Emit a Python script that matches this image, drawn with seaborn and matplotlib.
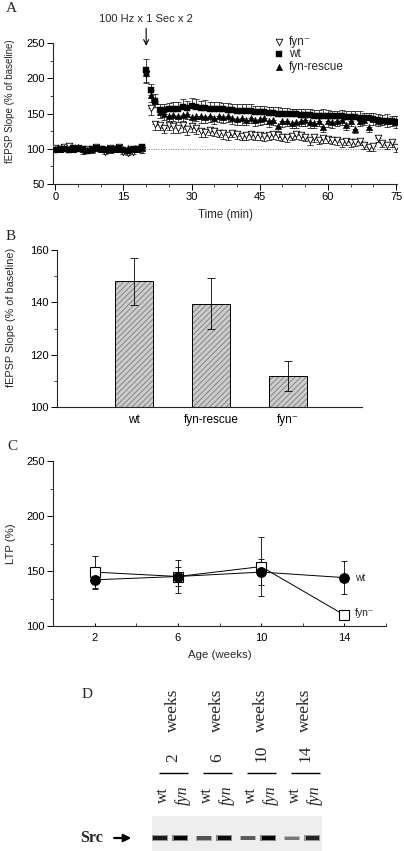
import matplotlib
matplotlib.use("Agg")
import matplotlib.pyplot as plt
import matplotlib.ticker as mticker
import seaborn as sns
import numpy as np

# ---------- panel A : fEPSP slope time course, one point per min ----------
time_min = list(range(0, 76))
wt_slope = [98, 99, 100, 98, 101, 100, 99, 97, 100, 101, 99, 98, 100, 99, 101, 98, 97, 99, 100, 102,
            211, 183, 168, 155, 155, 156, 157, 157, 159, 158, 160, 159, 158, 158, 157, 157, 156, 156, 155, 155,
            154, 154, 153, 154, 152, 152, 152, 151, 151, 150, 150, 150, 149, 149, 148, 148, 148, 147, 147, 147,
            147, 146, 146, 146, 145, 145, 145, 144, 143, 143, 142, 141, 140, 140, 139, 138]
wt_err = [3, 2, 3, 4, 3, 3, 2, 3, 4, 3, 2, 3, 3, 2, 4, 3, 3, 2, 3, 3,
          16, 9, 9, 8, 8, 9, 9, 10, 11, 10, 12, 11, 10, 11, 10, 10, 10, 9, 10, 9,
          9, 9, 10, 9, 9, 8, 9, 8, 8, 9, 8, 8, 8, 8, 9, 8, 8, 8, 8, 9,
          8, 8, 8, 9, 8, 8, 8, 9, 8, 8, 9, 8, 8, 9, 8, 9]
rescue_slope = [100, 99, 101, 100, 99, 102, 100, 98, 99, 101, 100, 99, 98, 100, 99, 100, 101, 99, 100, 101,
                207, 176, 168, 152, 150, 147, 148, 146, 148, 150, 145, 147, 146, 145, 146, 144, 146, 145, 147, 143,
                142, 143, 141, 144, 141, 142, 143, 140, 141, 132, 139, 140, 136, 138, 140, 141, 138, 137, 140, 131,
                139, 138, 140, 141, 133, 140, 128, 140, 141, 131, 142, 140, 141, 139, 140, 138]
rescue_err = [3, 3, 2, 3, 3, 4, 3, 3, 2, 3, 3, 3, 2, 3, 3, 2, 3, 3, 3, 3,
              14, 10, 9, 8, 9, 8, 9, 8, 9, 8, 9, 8, 9, 8, 8, 9, 8, 8, 9, 8,
              8, 9, 8, 8, 9, 8, 8, 9, 8, 7, 8, 8, 7, 8, 8, 9, 8, 7, 8, 7,
              8, 8, 8, 8, 7, 8, 6, 8, 8, 7, 8, 8, 8, 8, 8, 8]
fyn_slope = [101, 100, 102, 104, 99, 101, 97, 100, 98, 102, 100, 96, 101, 99, 103, 95, 94, 95, 100, 98,
             206, 158, 135, 133, 130, 134, 132, 130, 133, 128, 132, 130, 125, 124, 127, 125, 123, 122, 120, 123,
             121, 118, 120, 121, 120, 119, 118, 119, 121, 119, 117, 116, 118, 121, 119, 117, 112, 116, 113, 115,
             114, 113, 112, 110, 111, 109, 110, 111, 106, 103, 104, 115, 108, 106, 109, 102]
fyn_err = [3, 4, 3, 4, 3, 3, 5, 3, 4, 3, 3, 4, 3, 3, 4, 3, 3, 3, 4, 4,
           12, 10, 8, 7, 8, 8, 9, 8, 9, 8, 8, 9, 8, 7, 8, 7, 7, 8, 7, 7,
           7, 6, 7, 7, 7, 6, 7, 6, 7, 6, 6, 7, 6, 7, 6, 6, 7, 6, 6, 7,
           6, 6, 6, 7, 6, 6, 6, 6, 7, 6, 7, 6, 6, 6, 6, 6]

# ---------- panel B : mean LTP ----------
genotypes = ["wt", "fyn-rescue", "fyn⁻"]
mean_ltp = [148, 139.5, 112]
sem_ltp = [9, 9.8, 5.7]

# ---------- panel C : LTP vs age ----------
age_weeks = [2, 6, 10, 14]
ltp_wt = [142, 145, 149, 144]
ltp_wt_err = [7, 9, 12, 15]
ltp_fyn = [149, 145, 154, 110]
ltp_fyn_err = [15, 15, 27, 0]

# ---------- panel D : Src western blot ----------
blot_ages = ["2", "6", "10", "14"]
blot_lanes = ["wt", "fyn"]
src_intensity = [0.75, 0.95, 0.4, 0.9, 0.35, 0.95, 0.2, 0.7]

sns.set_style("ticks")
plt.rcParams["font.family"] = ["Liberation Sans", "DejaVu Sans"]
plt.rcParams["font.size"] = 8
plt.rcParams["axes.linewidth"] = 0.8
plt.rcParams["xtick.major.width"] = 0.7
plt.rcParams["ytick.major.width"] = 0.7
plt.rcParams["xtick.minor.width"] = 0.6
plt.rcParams["ytick.minor.width"] = 0.6
plt.rcParams["hatch.linewidth"] = 0.6
SERIF = ["Liberation Serif", "DejaVu Serif"]

W, H = 404, 851
fig = plt.figure(figsize=(W / 100, H / 100), dpi=100)


def add_axes_px(left, top, right, bottom):
    return fig.add_axes([left / W, 1 - bottom / H, (right - left) / W, (bottom - top) / H])


def style_ticks(ax):
    ax.tick_params(which="major", direction="out", length=4, labelsize=8, pad=2, colors="k")
    ax.tick_params(which="minor", direction="out", length=2.5)
    sns.despine(ax=ax)


# ================= A =================
axA = add_axes_px(53, 43, 397, 184)
t = np.array(time_min)
zeros = np.zeros(len(t))
axA.hlines(100, time_min[20], time_min[-1], colors="#777777", linestyles=(0, (1, 1.5)), lw=0.7)
axA.errorbar(t, fyn_slope, yerr=[fyn_err, zeros], fmt="none", ecolor="k", elinewidth=0.5, capsize=2.2, capthick=0.5)
axA.errorbar(t, rescue_slope, yerr=[rescue_err, zeros], fmt="none", ecolor="k", elinewidth=0.5, capsize=2.2, capthick=0.5)
axA.errorbar(t, wt_slope, yerr=[zeros, wt_err], fmt="none", ecolor="k", elinewidth=0.5, capsize=2.2, capthick=0.5)
sns.scatterplot(x=t, y=fyn_slope, ax=axA, marker="v", s=22, facecolor="white", edgecolor="k", linewidth=0.6,
                label="fyn⁻", zorder=3)
sns.scatterplot(x=t, y=wt_slope, ax=axA, marker="s", s=18, color="k", edgecolor="k", linewidth=0.3,
                label="wt", zorder=4)
sns.scatterplot(x=t, y=rescue_slope, ax=axA, marker="^", s=22, color="k", edgecolor="k", linewidth=0.3,
                label="fyn-rescue", zorder=4)
axA.set_xlim(-0.5, 75.2)
axA.set_ylim(50, 250)
axA.xaxis.set_major_locator(mticker.MultipleLocator(15))
axA.xaxis.set_minor_locator(mticker.MultipleLocator(5))
axA.yaxis.set_major_locator(mticker.MultipleLocator(50))
axA.yaxis.set_minor_locator(mticker.MultipleLocator(25))
style_ticks(axA)
axA.set_xlabel("Time (min)", fontsize=8.3, labelpad=5)
axA.set_ylabel("fEPSP Slope (% of baseline)", fontsize=7.0)
axA.yaxis.set_label_coords(-0.11, 0.59)
handles, labels = axA.get_legend_handles_labels()
axA.legend(handles, labels, loc="upper left", bbox_to_anchor=(0.625, 1.085), frameon=False, fontsize=8.5,
           handletextpad=0.35, labelspacing=0.05, borderaxespad=0, handlelength=1.0)
axA.annotate("100 Hz x 1 Sec x 2", xy=(20, 246), xytext=(0, 16), textcoords="offset points",
             ha="center", va="bottom", fontsize=8, annotation_clip=False,
             arrowprops=dict(arrowstyle="->", lw=0.8, color="k", shrinkA=1, shrinkB=0, mutation_scale=9))

# ================= B =================
axB = add_axes_px(57, 250, 362, 407)
sns.barplot(x=list(range(len(genotypes))), y=mean_ltp, ax=axB, width=0.5, color="#cccccc",
            edgecolor="#7a7a7a", linewidth=0, hatch="//////", errorbar=None, native_scale=True)
for p in axB.patches:
    axB.add_patch(plt.Rectangle(p.get_xy(), p.get_width(), p.get_height(), fill=False, edgecolor="k", lw=0.7))
axB.errorbar(list(range(len(genotypes))), mean_ltp, yerr=sem_ltp, fmt="none", ecolor="k",
             elinewidth=0.6, capsize=3, capthick=0.6)
axB.set_xlim(-1.0, 2.96)
axB.set_ylim(100, 160)
axB.set_xticks(list(range(len(genotypes))))
axB.set_xticklabels(genotypes)
axB.yaxis.set_major_locator(mticker.MultipleLocator(20))
axB.yaxis.set_minor_locator(mticker.MultipleLocator(10))
style_ticks(axB)
axB.tick_params(axis="x", length=0, pad=5, labelsize=8.5)
axB.set_ylabel("fEPSP Slope (% of baseline)", fontsize=7.8)
axB.yaxis.set_label_coords(-0.135, 0.57)

# ================= C =================
axC = add_axes_px(53, 461, 386, 626)
axC.errorbar(age_weeks, ltp_fyn, yerr=ltp_fyn_err, fmt="none", ecolor="k", elinewidth=0.6, capsize=2, capthick=0.6)
axC.errorbar(age_weeks, ltp_wt, yerr=ltp_wt_err, fmt="none", ecolor="k", elinewidth=0.6, capsize=2, capthick=0.6)
sns.lineplot(x=age_weeks, y=ltp_fyn, ax=axC, color="k", lw=0.7, marker="s", markersize=7,
             markerfacecolor="white", markeredgecolor="k", markeredgewidth=0.8, zorder=3)
sns.lineplot(x=age_weeks, y=ltp_wt, ax=axC, color="k", lw=0.7, marker="o", markersize=7,
             markerfacecolor="k", markeredgecolor="k", zorder=4)
axC.text(age_weeks[-1] + 0.5, ltp_wt[-1], "wt", ha="left", va="center", fontsize=7.5)
axC.text(age_weeks[-1] + 0.5, ltp_fyn[-1] + 2, "fyn⁻", ha="left", va="center", fontsize=7.5)
axC.set_xlim(0, 16)
axC.set_ylim(100, 250)
axC.set_xticks(age_weeks)
axC.xaxis.set_minor_locator(mticker.MultipleLocator(2))
axC.yaxis.set_major_locator(mticker.MultipleLocator(50))
axC.yaxis.set_minor_locator(mticker.MultipleLocator(25))
style_ticks(axC)
axC.tick_params(axis="x", which="both", direction="in", length=2.5, pad=5)
axC.set_xlabel("Age (weeks)", fontsize=8.2, labelpad=5)
axC.set_ylabel("LTP (%)", fontsize=8.2)
axC.yaxis.set_label_coords(-0.11, 0.5)

# ================= D =================
axD = add_axes_px(152, 680, 322, 851)
axD.set_xlim(-0.41, 3.45)
axD.set_ylim(0, 171)
axD.axis("off")
axD.axhspan(0, 35, color="#eeeeee", lw=0)
lane_off = [-0.23, 0.23]
for g, age in enumerate(blot_ages):
    axD.text(g + 0.07, 89, age, rotation=90, ha="center", va="bottom", fontsize=12.5, family=SERIF)
    axD.text(g + 0.07, 119, "weeks", rotation=90, ha="center", va="bottom", fontsize=12.5, family=SERIF)
    axD.hlines(78, g + 0.07 - 0.33, g + 0.07 + 0.33, colors="k", lw=1.0)
    for k, lane in enumerate(blot_lanes):
        axD.text(g + lane_off[k] + 0.06, 56, lane, rotation=90, ha="center", va="center",
                 fontsize=11.5, family=SERIF, fontstyle="italic" if lane == "fyn" else "normal")
        val = src_intensity[g * 2 + k]
        h = 2.5 + 2.5 * val
        axD.bar(g + lane_off[k], h + 1.5, bottom=13 - (h + 1.5) / 2, width=0.36,
                color="k", alpha=0.15 + 0.3 * val, lw=0)
        axD.bar(g + lane_off[k], h, bottom=13 - h / 2, width=0.3,
                color="k", alpha=0.2 + 0.8 * val, lw=0)
axD.text(-1.52, 13, "Src", ha="right", va="center", fontsize=11.5, fontweight="bold", family=SERIF)
axD.annotate("", xy=(-0.88, 13), xytext=(-1.27, 13), annotation_clip=False,
             arrowprops=dict(arrowstyle="-|>", color="k", lw=1.6, mutation_scale=11, shrinkA=0, shrinkB=0))

# panel letters
for letter, (x, y) in zip("ABCD", [(6, 8), (6, 236), (7, 447), (82, 694)]):
    fig.text(x / W, 1 - y / H, letter, ha="left", va="center", fontsize=11, family=SERIF)

fig.savefig("out.png", dpi=100)
